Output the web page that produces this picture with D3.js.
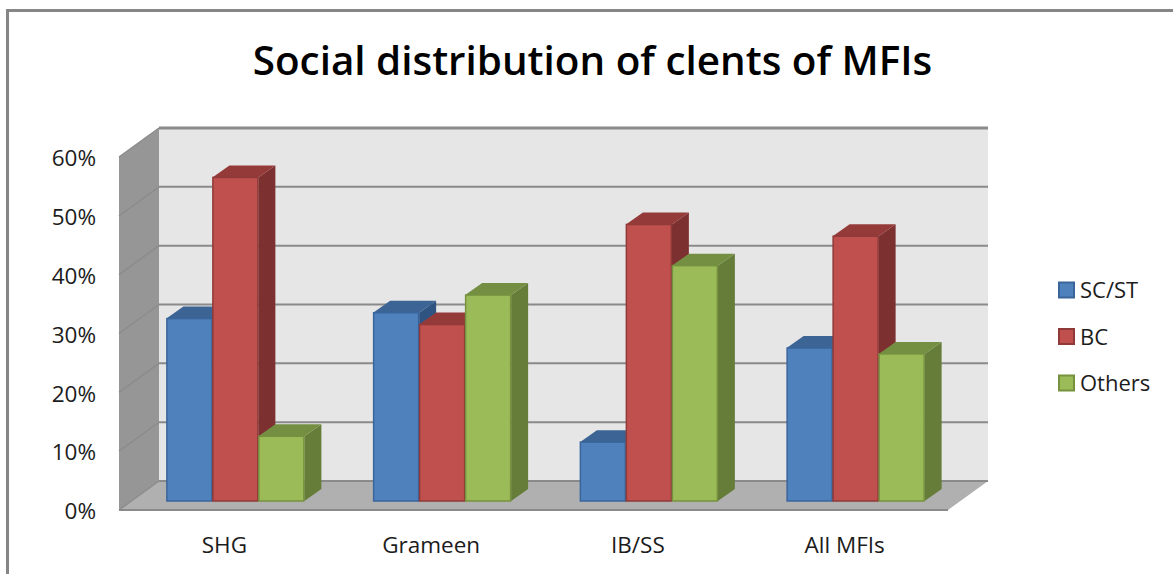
<!DOCTYPE html>
<html>
	<head>
		<meta charset="utf-8" />
		<title>Social distribution of clents of MFIs</title>
		<style>
			body,
			html {
				margin: 0;
				background: #fff;
			}
			svg {
				display: block;
			}
			text {
				font-family: 'Open Sans', 'Noto Sans', sans-serif;
				fill: #1c1c1c;
			}
		</style>
	</head>
	<body>
		<svg id="svg" width="1173" height="574"></svg>

		<script src="https://d3js.org/d3.v7.min.js"></script>
		<script>
			const categories = ['SHG', 'Grameen', 'IB/SS', 'All MFIs'];
			const seriesNames = ['SC/ST', 'BC', 'Others'];
			const scSt = [31, 32, 10, 26];
			const bc = [55, 30, 47, 45];
			const others = [11, 35, 40, 25];
			const yTicks = [0, 10, 20, 30, 40, 50, 60];

			const colors = {
				'SC/ST': { front: '#4f81bd', edge: '#3a659b', top: '#3c6494', side: '#2f5482' },
				BC: { front: '#c0504d', edge: '#8f3a38', top: '#943b39', side: '#7d3030' },
				Others: { front: '#9bbb59', edge: '#76923f', top: '#748f42', side: '#667d3a' },
			};
			const seriesValues = { 'SC/ST': scSt, BC: bc, Others: others };

			const svg = d3.select('#svg');

			// chart frame, only the top and left edges are inside the picture
			svg.append('path')
				.attr('d', 'M7.5,574V10.5H1173')
				.attr('fill', 'none')
				.attr('stroke', '#868686')
				.attr('stroke-width', 3);

			svg.append('text')
				.attr('x', 592.5)
				.attr('y', 75)
				.attr('text-anchor', 'middle')
				.attr('font-size', 40.4)
				.attr('font-weight', 600)
				.attr('fill', '#000')
				.style('fill', '#000')
				.text('Social distribution of clents of MFIs');

			// y on the front plane of the box, the walls are shifted back by depth
			const yscale = d3.scaleLinear().domain([0, 60]).range([510, 157]);
			const depth = { x: 40, y: -29 };
			const boxLeft = 119;
			const boxRight = 948;

			// bars stand a bit behind the front edge
			const barShift = -9;
			const barDepth = { x: 17, y: -12 };

			const xscale = d3.scaleBand().domain(categories).range([132, 959]);
			const seriesScale = d3
				.scaleBand()
				.domain(seriesNames)
				.range([xscale.bandwidth() / 2 - 69, xscale.bandwidth() / 2 + 69]);

			const poly = (pts) => 'M' + pts.map((p) => p.join(',')).join('L') + 'Z';

			// back wall
			svg.append('rect')
				.attr('x', boxLeft + depth.x)
				.attr('y', yscale(60) + depth.y)
				.attr('width', boxRight - boxLeft)
				.attr('height', yscale(0) - yscale(60))
				.attr('fill', '#e6e6e6');

			// left wall
			svg.append('path')
				.attr('d', poly([
					[boxLeft, yscale(60)],
					[boxLeft + depth.x, yscale(60) + depth.y],
					[boxLeft + depth.x, yscale(0) + depth.y],
					[boxLeft, yscale(0)],
				]))
				.attr('fill', '#969696');

			// floor
			svg.append('path')
				.attr('d', poly([
					[boxLeft, yscale(0)],
					[boxLeft + depth.x, yscale(0) + depth.y],
					[boxRight + depth.x, yscale(0) + depth.y],
					[boxRight, yscale(0)],
				]))
				.attr('fill', '#b0b0b0');
			svg.append('line')
				.attr('x1', boxLeft)
				.attr('x2', boxRight)
				.attr('y1', yscale(0))
				.attr('y2', yscale(0))
				.attr('stroke', '#8a8a8a')
				.attr('stroke-width', 2);

			// gridlines, faint on the left wall and darker on the back wall
			const grid = svg.append('g').attr('fill', 'none');
			grid.selectAll('line.wall')
				.data(yTicks)
				.enter()
				.append('line')
				.attr('class', 'wall')
				.attr('x1', boxLeft)
				.attr('y1', (d) => yscale(d))
				.attr('x2', boxLeft + depth.x)
				.attr('y2', (d) => yscale(d) + depth.y)
				.attr('stroke', '#8c8c8c')
				.attr('stroke-width', 1.5);
			grid.selectAll('line.back')
				.data(yTicks)
				.enter()
				.append('line')
				.attr('class', 'back')
				.attr('x1', boxLeft + depth.x)
				.attr('y1', (d) => yscale(d) + depth.y)
				.attr('x2', boxRight + depth.x)
				.attr('y2', (d) => yscale(d) + depth.y)
				.attr('stroke', '#8a8a8a')
				.attr('stroke-width', (d) => (d === 60 ? 3 : 2));

			// bars
			const rows = [];
			categories.forEach((c, i) => {
				seriesNames.forEach((s) => {
					rows.push({ category: c, series: s, value: seriesValues[s][i] });
				});
			});

			const bars = svg
				.append('g')
				.selectAll('g')
				.data(rows)
				.enter()
				.append('g')
				.attr('transform', (d) => `translate(${xscale(d.category) + seriesScale(d.series)},0)`);

			const w = seriesScale.bandwidth();
			const base = yscale(0) + barShift;
			const topOf = (d) => yscale(d.value) + barShift;

			bars.append('path')
				.attr('d', (d) => poly([
					[w, topOf(d)],
					[w + barDepth.x, topOf(d) + barDepth.y],
					[w + barDepth.x, base + barDepth.y],
					[w, base],
				]))
				.attr('fill', (d) => colors[d.series].side);

			bars.append('path')
				.attr('d', (d) => poly([
					[0, topOf(d)],
					[barDepth.x, topOf(d) + barDepth.y],
					[w + barDepth.x, topOf(d) + barDepth.y],
					[w, topOf(d)],
				]))
				.attr('fill', (d) => colors[d.series].top);

			bars.append('rect')
				.attr('x', 0.5)
				.attr('y', (d) => topOf(d))
				.attr('width', w - 1)
				.attr('height', (d) => base - topOf(d))
				.attr('fill', (d) => colors[d.series].front)
				.attr('stroke', (d) => colors[d.series].edge)
				.attr('stroke-width', 1.5);

			// axes
			const leftAxis = d3
				.axisLeft(yscale)
				.tickValues(yTicks)
				.tickSize(0)
				.tickPadding(23)
				.tickFormat((d) => d + '%');
			const gLeft = svg.append('g').attr('transform', `translate(${boxLeft},1.5)`).call(leftAxis);
			gLeft.select('.domain').remove();
			gLeft.selectAll('text').attr('font-size', 22.5).attr('font-family', null);

			// the category labels sit a little left of their bar groups
			const bottomAxis = d3.axisBottom(xscale).tickSize(0).tickPadding(27);
			const gBottom = svg.append('g').attr('transform', `translate(-11,${yscale(0)})`).call(bottomAxis);
			gBottom.select('.domain').remove();
			gBottom.selectAll('text').attr('font-size', 22.5).attr('font-family', null);

			// legend
			const legendY = d3.scalePoint().domain(seriesNames).range([290, 383]);
			const legend = svg
				.append('g')
				.selectAll('g')
				.data(seriesNames)
				.enter()
				.append('g')
				.attr('transform', (d) => `translate(1058,${legendY(d)})`);
			legend
				.append('rect')
				.attr('x', 1)
				.attr('y', -7.5)
				.attr('width', 15)
				.attr('height', 15)
				.attr('fill', (d) => colors[d].front)
				.attr('stroke', (d) => colors[d].edge)
				.attr('stroke-width', 2);
			legend
				.append('text')
				.attr('x', 22)
				.attr('y', 8)
				.attr('font-size', 22)
				.text((d) => d);
		</script>
	</body>
</html>
